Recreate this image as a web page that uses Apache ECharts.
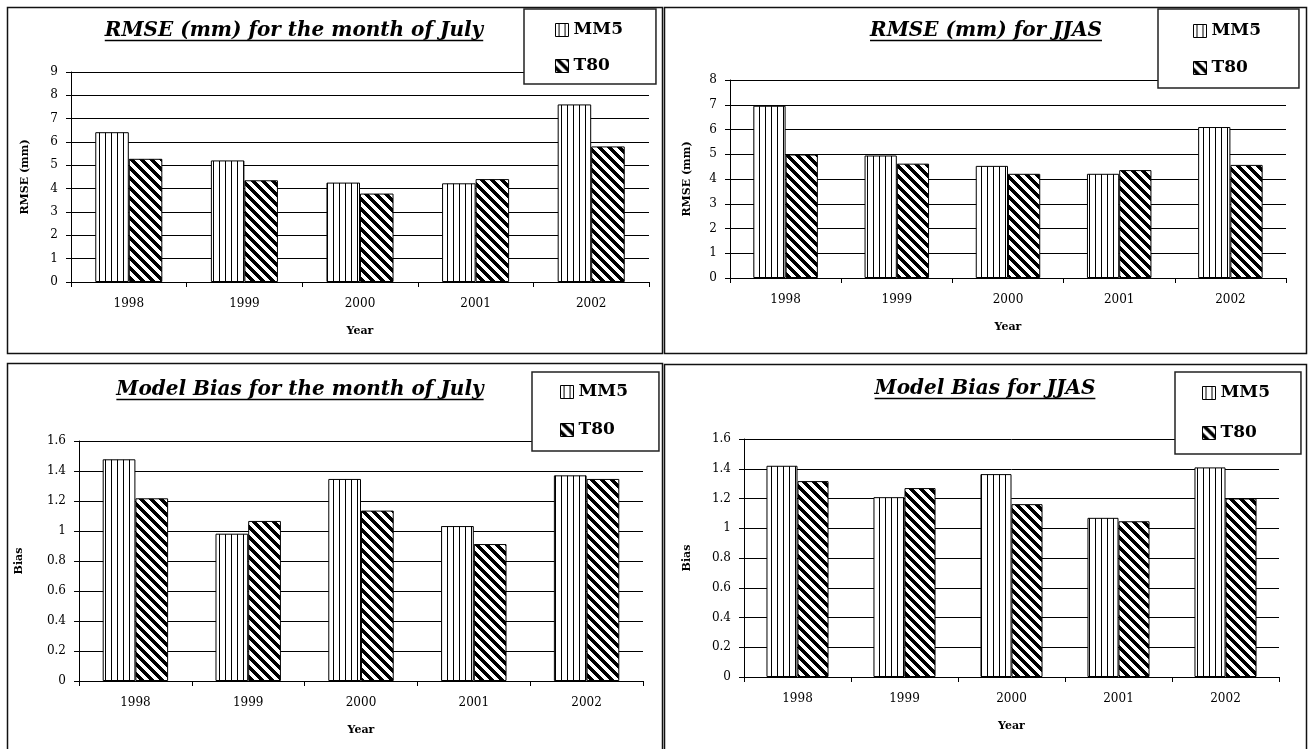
<!DOCTYPE html>
<html>
<head>
<meta charset="utf-8">
<script src="https://cdn.jsdelivr.net/npm/echarts@6/dist/echarts.min.js"></script>
<style>
  html, body { margin: 0; padding: 0; background: #fff; }
  #chart { width: 1310px; height: 749px; }
</style>
</head>
<body>
<div id="chart"></div>
<script>
// ---- data ----
const years = ['1998', '1999', '2000', '2001', '2002'];
const modelNames = ['MM5', 'T80'];

const rmseJulyMM5 = [6.42, 5.21, 4.26, 4.23, 7.61];
const rmseJulyT80 = [5.28, 4.36, 3.79, 4.41, 5.81];

const rmseJjasMM5 = [6.96, 4.95, 4.53, 4.21, 6.10];
const rmseJjasT80 = [4.99, 4.62, 4.21, 4.36, 4.57];

const biasJulyMM5 = [1.478, 0.982, 1.347, 1.033, 1.371];
const biasJulyT80 = [1.218, 1.067, 1.136, 0.913, 1.347];

const biasJjasMM5 = [1.420, 1.209, 1.364, 1.070, 1.409];
const biasJjasT80 = [1.317, 1.270, 1.162, 1.047, 1.200];

// value-axis ranges: [min, max, step]
const rmseJulyTicks = [0, 9, 1];
const rmseJjasTicks = [0, 8, 1];
const biasTicks = [0, 1.6, 0.2];

const titles = [
  'RMSE (mm) for the month of July',
  'RMSE (mm) for JJAS',
  'Model Bias for the month of July',
  'Model Bias for JJAS'
];
const yNames = ['RMSE (mm)', 'RMSE (mm)', 'Bias', 'Bias'];
const xName = 'Year';

// ---- hatch fills ----
function makeVerticalHatch() {
  const c = document.createElement('canvas');
  c.width = 6; c.height = 6;
  const ctx = c.getContext('2d');
  ctx.fillStyle = '#fff'; ctx.fillRect(0, 0, 6, 6);
  ctx.fillStyle = '#000'; ctx.fillRect(3, 0, 1, 6);
  return c;
}
function makeDiagonalHatch() {
  const n = 10, w = 5;
  const c = document.createElement('canvas');
  c.width = n; c.height = n;
  const ctx = c.getContext('2d');
  ctx.fillStyle = '#fff'; ctx.fillRect(0, 0, n, n);
  ctx.fillStyle = '#000';
  for (let y = 0; y < n; y++) {
    for (let x = 0; x < n; x++) {
      if ((((x - y) % n) + n) % n < w) ctx.fillRect(x, y, 1, 1);
    }
  }
  return c;
}
const fillMM5 = { image: makeVerticalHatch(), repeat: 'repeat' };
const fillT80 = { image: makeDiagonalHatch(), repeat: 'repeat' };

// ---- layout of the four panels ----
const panels = [
  { data: [rmseJulyMM5, rmseJulyT80], ticks: rmseJulyTicks,
    frame: [7.5, 7.5, 655, 346],
    grid: { left: 71, top: 72, width: 578, height: 210 },
    titleX: 294, titleBase: 37,
    legend: { left: 524, top: 9, padding: [11, 33, 8, 31], itemGap: 16 },
    yGap: 40 },
  { data: [rmseJjasMM5, rmseJjasT80], ticks: rmseJjasTicks,
    frame: [664.5, 7.5, 642, 346],
    grid: { left: 730, top: 80, width: 556, height: 198 },
    titleX: 986, titleBase: 37,
    legend: { left: 1158, top: 9, padding: [12, 38, 10, 35], itemGap: 17 },
    yGap: 37 },
  { data: [biasJulyMM5, biasJulyT80], ticks: biasTicks,
    frame: [7.5, 363.5, 655, 400],
    grid: { left: 79, top: 441, width: 564, height: 240 },
    titleX: 300, titleBase: 396,
    legend: { left: 532, top: 372, padding: [10, 31, 11, 28], itemGap: 18 },
    yGap: 54 },
  { data: [biasJjasMM5, biasJjasT80], ticks: biasTicks,
    frame: [664.5, 364.5, 642, 400],
    grid: { left: 744, top: 439, width: 535, height: 238 },
    titleX: 985, titleBase: 395,
    legend: { left: 1175, top: 372, padding: [11, 31, 11, 27], itemGap: 20 },
    yGap: 51 }
];

const serif = '"DejaVu Serif", "Liberation Serif", serif';
const titleSize = 20;
const titleFont = 'italic bold ' + titleSize + 'px ' + serif;

function textWidth(text, font) {
  const ctx = document.createElement('canvas').getContext('2d');
  ctx.font = font;
  return ctx.measureText(text).width;
}

const option = {
  animation: false,
  backgroundColor: '#fff',
  title: [], grid: [], xAxis: [], yAxis: [], legend: [], series: [], graphic: []
};

panels.forEach((p, i) => {
  // panel frame
  option.graphic.push({
    type: 'rect', z: 0, silent: true,
    shape: { x: p.frame[0], y: p.frame[1], width: p.frame[2], height: p.frame[3] },
    style: { fill: 'none', stroke: '#111', lineWidth: 1.5 }
  });

  // title with underline
  option.title.push({
    text: titles[i], left: p.titleX, top: p.titleBase - 16.5, textAlign: 'center', padding: 0,
    textStyle: { fontFamily: serif, fontStyle: 'italic', fontWeight: 'bold', fontSize: titleSize, color: '#000' }
  });
  const tw = textWidth(titles[i], titleFont);
  option.graphic.push({
    type: 'line', z: 10, silent: true,
    shape: { x1: p.titleX - tw / 2, y1: p.titleBase + 3.5, x2: p.titleX + tw / 2, y2: p.titleBase + 3.5 },
    style: { stroke: '#000', lineWidth: 1.5 }
  });

  option.grid.push(Object.assign({ containLabel: false }, p.grid));

  option.xAxis.push({
    type: 'category', gridIndex: i, data: years, boundaryGap: true,
    name: xName, nameLocation: 'middle', nameGap: 44,
    nameTextStyle: { fontFamily: serif, fontWeight: 'bold', fontSize: 11, color: '#000' },
    axisLine: { lineStyle: { color: '#000', width: 1 } },
    axisTick: { show: true, interval: 0, length: 5, lineStyle: { color: '#000' } },
    axisLabel: { margin: 16, fontFamily: serif, fontSize: 12, color: '#000' },
    splitLine: { show: false }
  });

  option.yAxis.push({
    type: 'value', gridIndex: i, min: p.ticks[0], max: p.ticks[1], interval: p.ticks[2],
    name: yNames[i], nameLocation: 'middle', nameGap: p.yGap, nameRotate: 90,
    nameTextStyle: { fontFamily: serif, fontWeight: 'bold', fontSize: 11, color: '#000' },
    axisLine: { show: true, lineStyle: { color: '#000', width: 1 } },
    axisTick: { show: true, length: 5, lineStyle: { color: '#000' } },
    axisLabel: { margin: 13, fontFamily: serif, fontSize: 12, color: '#000' },
    splitLine: { show: true, lineStyle: { color: '#000', width: 1 } }
  });

  option.legend.push({
    orient: 'vertical', left: p.legend.left, top: p.legend.top,
    padding: p.legend.padding, itemGap: p.legend.itemGap,
    itemWidth: 13, itemHeight: 13, icon: 'rect', selectedMode: false,
    backgroundColor: '#fff', borderColor: '#222', borderWidth: 1.5,
    itemStyle: { borderColor: '#000', borderWidth: 1 },
    textStyle: { fontFamily: serif, fontWeight: 'bold', fontSize: 17, lineHeight: 20, color: '#000' },
    data: modelNames, z: 20
  });

  modelNames.forEach((name, k) => {
    option.series.push({
      type: 'bar', name: name, xAxisIndex: i, yAxisIndex: i,
      data: p.data[k], barGap: '0%', barCategoryGap: '42%',
      itemStyle: { color: k === 0 ? fillMM5 : fillT80, borderColor: '#000', borderWidth: 1 },
      emphasis: { disabled: true }
    });
  });
});

const chart = echarts.init(document.getElementById('chart'), null, { renderer: 'canvas' });
chart.setOption(option);
</script>
</body>
</html>
